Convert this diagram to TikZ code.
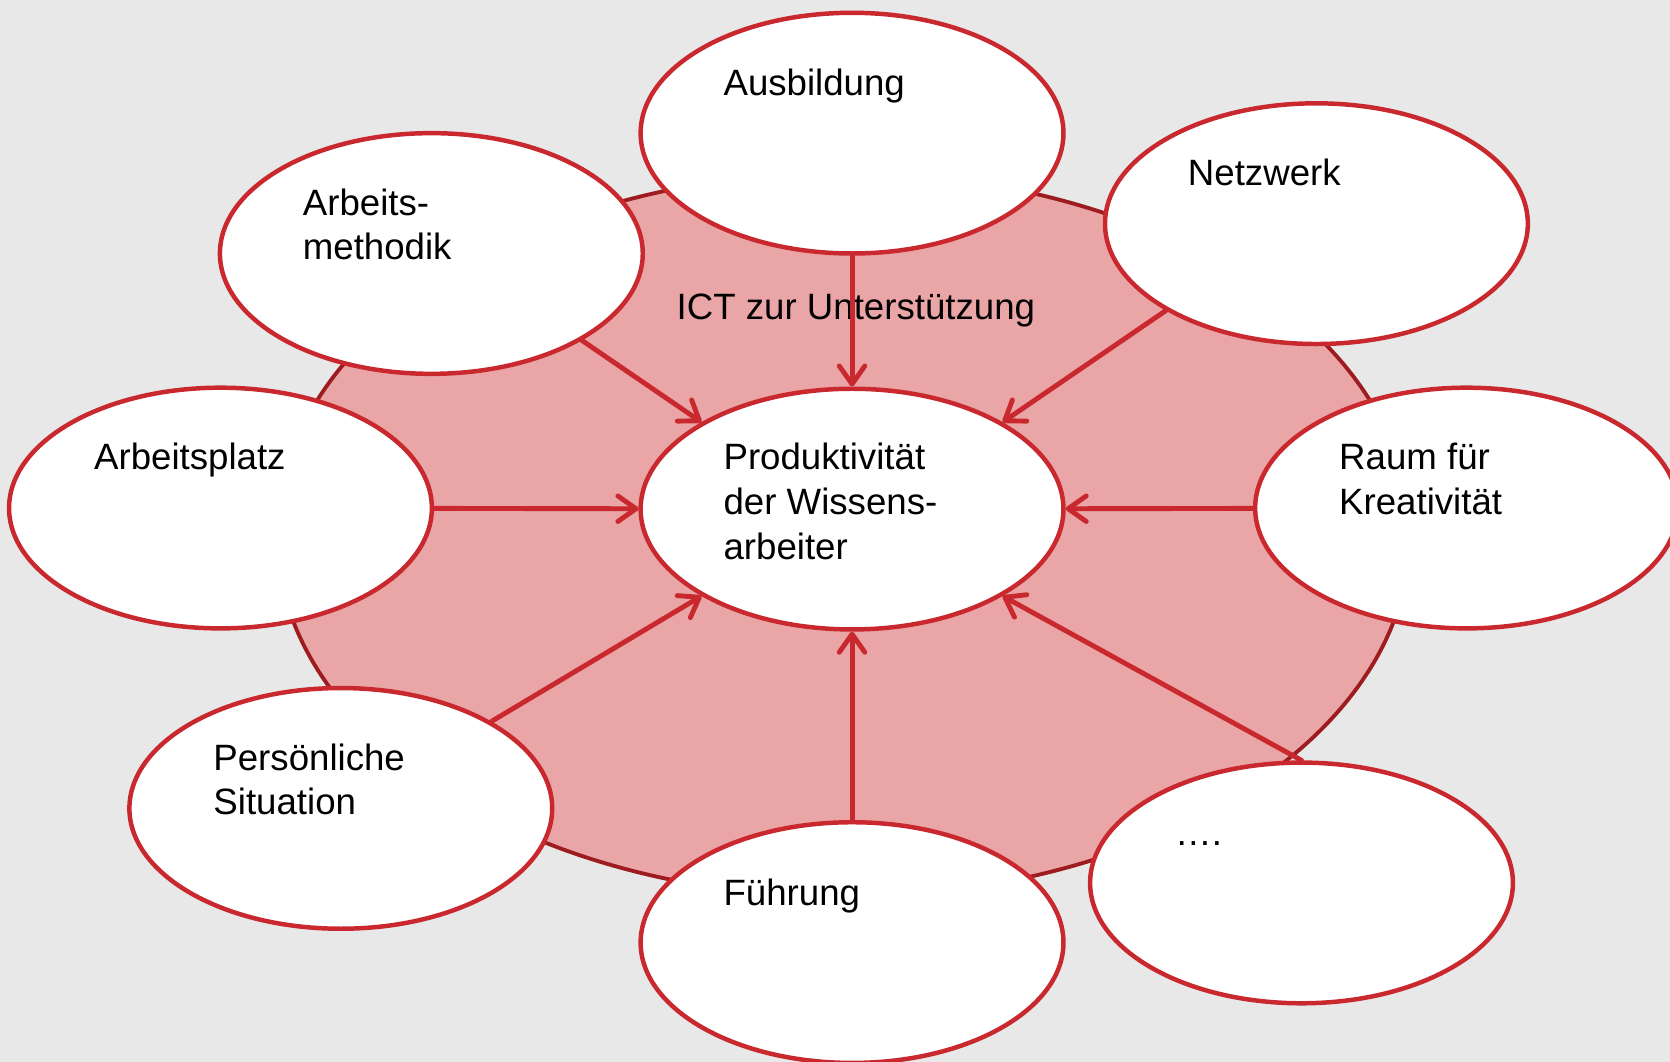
\documentclass[tikz,border=0pt]{standalone}
\usepackage{fontspec}
\setmainfont{Liberation Sans}
\usetikzlibrary{shapes.geometric,arrows.meta}
\definecolor{bgcol}{HTML}{E8E8E8}
\definecolor{bigfill}{HTML}{EAA6A7}
\definecolor{bigline}{HTML}{9C1C20}
\definecolor{redline}{HTML}{C9292E}
\tikzset{
  small/.style={ellipse, draw=redline, fill=white, line width=2.1pt, minimum width=198.5pt, minimum height=113pt, inner sep=0pt},
  lbl/.style={anchor=base west, align=left, inner sep=0pt, font=\fontsize{17.2}{21}\selectfont},
  arr/.style={draw=redline, line width=2.3pt, line cap=round, -{Straight Barb[length=8.5pt,width=12pt,line cap=round,line join=round]}},
}
\begin{document}
\begin{tikzpicture}[x=0.5pt,y=-0.5pt]
\useasboundingbox (0,0) rectangle (1568,997);
\clip (0,0) rectangle (1568,997);
\fill[bgcol] (0,0) rectangle (1568,997);
\node[ellipse, draw=bigline, fill=bigfill, line width=1.8pt, minimum width=532pt, minimum height=340pt, inner sep=0pt] (big) at (792,502) {};
\node[small] (prod) at (800,478) {};
\node[lbl] (ict) at (635,300) {ICT zur Unterstützung};
\node[small] (aus) at (800,125) {};
\node[small] (netz) at (1236,210) {};
\node[small] (meth) at (405,238) {};
\node[small] (platz) at (207,477) {};
\node[small] (raum) at (1377,477) {};
\node[small] (pers) at (320,759) {};
\node[small] (fuehr) at (800,885) {};
\node[small] (dots) at (1222,829) {};
\draw[arr] (aus) -- (prod);
\draw[arr] (netz.210) -- (prod.30);
\draw[arr] (meth.-30) -- (prod.150);
\draw[arr] (platz) -- (prod);
\draw[arr] (raum) -- (prod);
\draw[arr] (pers.30) -- (prod.-150);
\draw[arr] (fuehr) -- (prod);
\draw[arr] (dots.north) -- (prod.-30);
\node[lbl] (prodT) at (679,525) {Produktivität\\der Wissens-\\arbeiter};
\node[lbl] (ausT) at (679,90) {Ausbildung};
\node[lbl] (netzT) at (1115,174) {Netzwerk};
\node[lbl] (methT) at (284,244) {Arbeits-\\methodik};
\node[lbl] (platzT) at (88,441) {Arbeitsplatz};
\node[lbl] (raumT) at (1257,483) {Raum für\\Kreativität};
\node[lbl] (persT) at (200,765) {Persönliche\\Situation};
\node[lbl] (fuehrT) at (679,850) {Führung};
\node[lbl] (dotsT) at (1103,794) {….};
\end{tikzpicture}
\end{document}
